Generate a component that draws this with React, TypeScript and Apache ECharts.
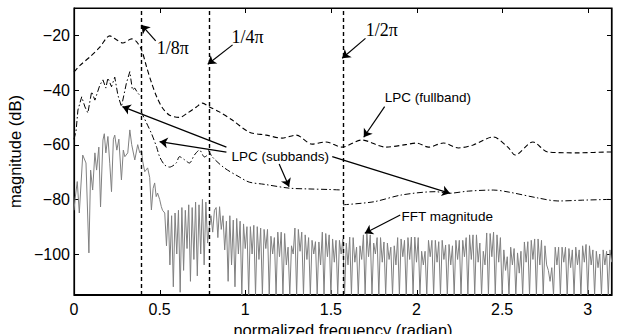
import { useEffect, useRef } from 'react';
import * as echarts from 'echarts';

// ---- axis ticks and ranges ----
const xTicks = [0, 0.5, 1, 1.5, 2, 2.5, 3];
const yTicks = [-100, -80, -60, -40, -20];
const xRange = [0, Math.PI];
const yRange = [-115, -10];

// ---- band edges (vertical dashed lines) ----
const bandEdges = [Math.PI / 8, Math.PI / 4, Math.PI / 2];

// ---- LPC (fullband) envelope [rad, dB] ----
const fullband = [
  [0, -33.4], [0.035, -31], [0.093, -27.9], [0.151, -24.3], [0.209, -20.2], [0.25, -21.7],
  [0.285, -22.8], [0.337, -21.3], [0.366, -22.4], [0.395, -25.4], [0.424, -31.6], [0.453, -37.4],
  [0.483, -42.5], [0.517, -46.6], [0.558, -49.2], [0.616, -50], [0.663, -48.4], [0.715, -46.2],
  [0.75, -44.8], [0.791, -46.2], [0.849, -48], [0.924, -51], [1.023, -55.4], [1.122, -56.5],
  [1.215, -57.6], [1.297, -56.5], [1.39, -59.8], [1.471, -59], [1.564, -60.9], [1.68, -58.3],
  [1.82, -60.9], [1.936, -60], [2.0, -59.4], [2.07, -60.9], [2.157, -59.4], [2.244, -61.2],
  [2.331, -60.1], [2.448, -57.2], [2.535, -61], [2.576, -63.8], [2.68, -59], [2.767, -62.7],
  [2.942, -63], [3.128, -62.7], [3.1416, -62.7],
];

// ---- LPC (subbands) envelopes [rad, dB] ----
const subband1 = [
  [0, -58], [0.012, -55], [0.023, -47.3], [0.045, -42.5], [0.064, -46.2], [0.081, -48.4],
  [0.103, -40.6], [0.122, -43.7], [0.151, -38.2], [0.169, -36.3], [0.186, -39.3], [0.198, -35.6],
  [0.219, -38.8], [0.238, -35.3], [0.256, -41.8], [0.277, -46.1], [0.306, -37.5], [0.326, -33.3],
  [0.341, -40], [0.355, -39.3], [0.372, -41.1], [0.3927, -42.5],
];
const subband2 = [
  [0.3927, -48], [0.423, -52], [0.453, -56], [0.483, -61], [0.5, -64.4], [0.529, -67.4],
  [0.558, -68.2], [0.597, -66.7], [0.616, -64.4], [0.645, -65.5], [0.674, -66.7], [0.703, -63.8],
  [0.733, -62], [0.762, -64.5], [0.7854, -63.5],
];
const subband3 = [
  [0.7854, -62], [0.808, -64.5], [0.878, -68.5], [0.965, -71.8], [1.023, -73.7], [1.11, -74.5],
  [1.256, -75.9], [1.372, -76.2], [1.488, -76.4], [1.5708, -76.6],
];
const subband4 = [
  [1.5708, -82], [1.75, -80.9], [1.913, -78.4], [2.11, -77.2], [2.186, -77.8], [2.302, -77],
  [2.448, -76.6], [2.535, -77.3], [2.709, -79.5], [2.826, -80.6], [2.971, -80.3], [3.1416, -80],
];

// ---- FFT magnitude: low-frequency part [rad, dB] ----
const fftLow = [
  [0, -84], [0.006, -80], [0.019, -73.5], [0.031, -85], [0.051, -63.8], [0.07, -66.7],
  [0.087, -99.6], [0.097, -69.3], [0.109, -76.6], [0.122, -63], [0.132, -69.3], [0.145, -60.9],
  [0.155, -82.8], [0.169, -58.3], [0.177, -56], [0.186, -63], [0.198, -57], [0.209, -67],
  [0.219, -77.2], [0.23, -58], [0.238, -56.5], [0.25, -62], [0.262, -58], [0.277, -72.9],
  [0.288, -62], [0.297, -64.4], [0.314, -63], [0.326, -54.6], [0.337, -60], [0.355, -65.6],
  [0.372, -60], [0.384, -63], [0.394, -62], [0.401, -66], [0.413, -69.9], [0.43, -68.5],
  [0.442, -72], [0.452, -83.9], [0.462, -76], [0.471, -74], [0.48, -79], [0.488, -77.7],
  [0.5, -80], [0.51, -82.7], [0.517, -84],
];
// ---- FFT magnitude: dense part, one value every 0.01 rad from 0.53 ----
const fftHighStart = 0.53;
const fftHighStep = 0.01;
const fftHigh = [
  -85, -97, -84, -104, -86, -112, -85, -100, -84, -114,
  -83, -106, -84, -98, -82, -110, -83, -102, -81, -108,
  -82, -100, -80, -104, -81, -96, -90, -86, -92, -84,
  -83, -94, -82.7, -91, -86, -98.5, -88, -110, -86, -104,
  -87.6, -112, -87, -100, -88, -115, -89, -98, -90, -115,
  -90, -100, -89.5, -115, -90, -102, -90.5, -115, -91, -98,
  -91, -115, -93.5, -100, -94, -115, -92, -101, -92, -115,
  -92.5, -104, -97.5, -115, -97, -100, -90.5, -115, -91, -99,
  -92, -115, -93, -102, -94, -115, -95, -100, -95.5, -115,
  -95.6, -104, -92, -115, -92.5, -101, -93, -115, -94.5, -103,
  -95, -115, -95, -100, -94.5, -115, -96, -104, -93.8, -115,
  -94, -103, -97.5, -115, -97, -102, -93, -115, -92.3, -101,
  -93, -115, -96, -100, -94, -115, -94, -103, -95.6, -115,
  -96, -102, -97.5, -115, -97, -104, -94, -115, -94.5, -101,
  -95, -115, -94, -102, -93.8, -115, -93.8, -103, -94, -115,
  -99, -104, -99, -115, -95, -101, -95, -115, -95, -103,
  -95.5, -115, -95, -102, -96.7, -115, -96.5, -104, -97, -115,
  -95, -102, -95, -115, -95, -101, -94, -115, -93, -102,
  -93, -115, -93, -103, -96, -115, -99, -104, -92.3, -115,
  -92.5, -101, -92, -115, -93, -103, -94, -115, -98.5, -106,
  -101, -115, -97.5, -104, -98, -115, -99.6, -107, -99, -115,
  -95.6, -103, -95.5, -115, -95, -102, -94.5, -115, -94.5, -104,
  -95, -115, -97, -104, -106, -110, -105, -115, -97.5, -104,
  -97.5, -115, -97.5, -103, -97.5, -115, -98, -105, -98.5, -115,
  -97.5, -104, -98.5, -115, -97, -103, -96.5, -115, -97, -104,
  -98.5, -115, -99, -105, -100, -115, -98.5, -104, -99, -115, -98.5, -103,
];

// ---- annotations (data coordinates) ----
const arrows = [
  [[0.477, -22.0], [0.394, -16.2]],
  [[0.926, -23.5], [0.781, -30.6]],
  [[1.702, -21.1], [1.566, -28.4]],
  [[1.814, -46.1], [1.692, -57.3]],
  [[0.89, -60.9], [0.283, -46.1]],
  [[0.89, -62.7], [0.5, -58.9]],
  [[1.198, -67.1], [1.256, -75.4]],
  [[1.508, -64.4], [2.196, -77.8]],
  [[1.905, -85.7], [1.698, -92.4]],
];
const piLabels = [
  { text: '1/8π', at: [0.483, -24.6] },
  { text: '1/4π', at: [0.919, -20.6] },
  { text: '1/2π', at: [1.703, -18.0] },
];
const noteLabels = [
  { text: 'LPC (fullband)', at: [1.814, -42.9] },
  { text: 'LPC (subbands)', at: [0.919, -64.5] },
  { text: 'FFT magnitude', at: [1.913, -86.1] },
];

const SANS = '"Liberation Sans", Arial, Helvetica, sans-serif';
const SERIF = '"Liberation Serif", "DejaVu Serif", serif';
const WIDTH = 620;
const HEIGHT = 334;
const GRID = { left: 74, right: 8, top: 8, bottom: 39 };

export default function App() {
  const ref = useRef<HTMLDivElement>(null);

  useEffect(() => {
    const chart = echarts.init(ref.current!, null, { renderer: 'svg' });
    const fftData = [
      ...fftLow,
      ...fftHigh.map((v, i) => [+(fftHighStart + i * fftHighStep).toFixed(3), v]),
    ];

    // plot-area geometry (same as the grid below), used only for annotations / frame ticks
    const plotW = WIDTH - GRID.left - GRID.right;
    const plotH = HEIGHT - GRID.top - GRID.bottom;
    const px = (x: number) => GRID.left + ((x - xRange[0]) / (xRange[1] - xRange[0])) * plotW;
    const py = (y: number) => GRID.top + ((yRange[1] - y) / (yRange[1] - yRange[0])) * plotH;
    const L = GRID.left;
    const R = GRID.left + plotW;
    const T = GRID.top;
    const B = GRID.top + plotH;
    const tickLen = 5;

    const graphic: any[] = [];
    xTicks.forEach((v) => {
      const x = Math.round(px(v)) + 0.5;
      graphic.push({ type: 'line', shape: { x1: x, y1: T, x2: x, y2: T + tickLen }, style: { stroke: '#000', lineWidth: 1 } });
      graphic.push({ type: 'line', shape: { x1: x, y1: B, x2: x, y2: B - tickLen }, style: { stroke: '#000', lineWidth: 1 } });
    });
    yTicks.forEach((v) => {
      const y = Math.round(py(v)) + 0.5;
      graphic.push({ type: 'line', shape: { x1: L, y1: y, x2: L + tickLen, y2: y }, style: { stroke: '#000', lineWidth: 1 } });
      graphic.push({ type: 'line', shape: { x1: R, y1: y, x2: R - tickLen, y2: y }, style: { stroke: '#000', lineWidth: 1 } });
    });
    graphic.push({
      type: 'polygon',
      shape: { points: [[L + 0.5, T + 0.5], [R - 0.5, T + 0.5], [R - 0.5, B - 0.5], [L + 0.5, B - 0.5]] },
      style: { fill: 'none', stroke: '#000', lineWidth: 1.2 },
    });
    piLabels.forEach((l) => {
      graphic.push({
        type: 'text', x: px(l.at[0]), y: py(l.at[1]),
        style: { text: l.text, fill: '#000', font: `18px ${SERIF}`, textAlign: 'left', textVerticalAlign: 'middle' },
      });
    });
    noteLabels.forEach((l) => {
      graphic.push({
        type: 'text', x: px(l.at[0]), y: py(l.at[1]),
        style: { text: l.text, fill: '#000', font: `13.5px ${SANS}`, textAlign: 'left', textVerticalAlign: 'middle' },
      });
    });

    const subSeries: any[] = [subband1, subband2, subband3, subband4].map((d, i) => ({
      type: 'line',
      data: d,
      showSymbol: false,
      smooth: i === 0 ? false : 0.3,
      lineStyle: { color: '#000', width: 1, type: [6, 2.5, 1.5, 2.5] },
      itemStyle: { color: '#000' },
      z: 3,
    }));
    subSeries[3].markLine = {
      silent: true,
      symbol: ['none', 'none'],
      label: { show: false },
      lineStyle: { color: '#000', width: 1.4, type: [4, 3] },
      data: bandEdges.map((e) => ({ xAxis: e })),
    };

    chart.setOption({
      animation: false,
      backgroundColor: '#fff',
      grid: {
        ...GRID,
        containLabel: false,
        outerBoundsMode: 'none',
        show: true, borderColor: '#000', borderWidth: 1.2,
      },
      xAxis: {
        type: 'value', min: xRange[0], max: xRange[1],
        axisLine: { show: true, onZero: false, lineStyle: { color: '#000', width: 1 } },
        axisTick: { show: false },
        splitLine: { show: false },
        axisLabel: { customValues: xTicks, color: '#000', fontSize: 16, fontFamily: SANS, margin: 6 },
        name: 'normalized frequency (radian)', nameLocation: 'middle', nameGap: 20,
        nameTextStyle: { color: '#000', fontSize: 16.5, fontFamily: SANS },
      },
      yAxis: {
        type: 'value', min: yRange[0], max: yRange[1],
        axisLine: { show: true, lineStyle: { color: '#000', width: 1 } },
        axisTick: { show: false }, splitLine: { show: false },
        axisLabel: {
          customValues: yTicks, color: '#000', fontSize: 16, fontFamily: SANS, margin: 4,
          formatter: (v: number) => (v < 0 ? '\u2212' + Math.abs(v) : String(v)),
        },
        name: 'magnitude (dB)', nameLocation: 'middle', nameGap: 43,
        nameTextStyle: { color: '#000', fontSize: 16.5, fontFamily: SANS },
      },
      graphic,
      series: [
        {
          type: 'line', data: fftData, showSymbol: false,
          lineStyle: { color: '#808080', width: 1 }, itemStyle: { color: '#808080' }, z: 2,
        },
        ...subSeries,
        {
          type: 'line', data: fullband, showSymbol: false, smooth: 0.3,
          lineStyle: { color: '#000', width: 1.1, type: [5, 3] }, itemStyle: { color: '#000' }, z: 4,
          markLine: {
            silent: true,
            symbol: ['none', 'arrow'],
            symbolSize: 8,
            label: { show: false },
            lineStyle: { color: '#000', width: 1.2, type: 'solid' },
            data: arrows.map(([a, b]) => [{ coord: a }, { coord: b }]),
          },
        },
      ],
    });

    return () => chart.dispose();
  }, []);

  return <div ref={ref} style={{ position: 'fixed', left: 0, top: 0, width: WIDTH, height: HEIGHT }} />;
}
